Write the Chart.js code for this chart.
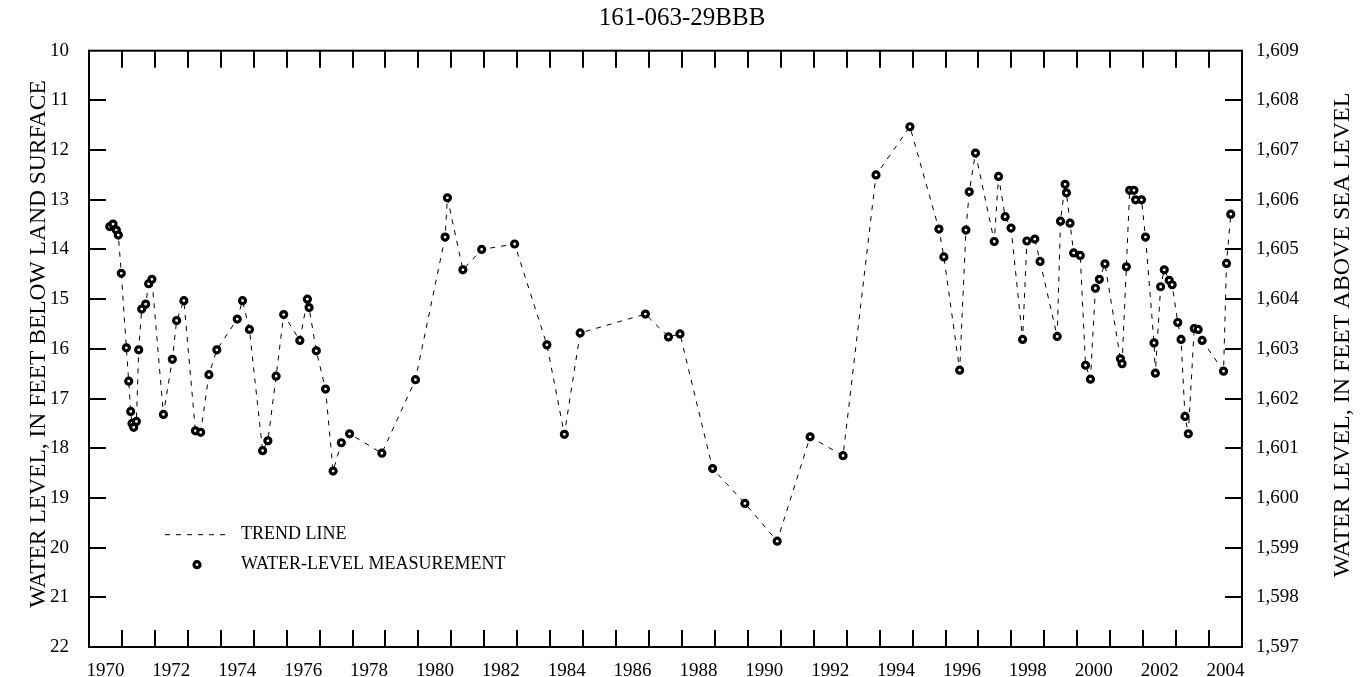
<!DOCTYPE html>
<html>
<head>
<meta charset="utf-8">
<script src="https://cdn.jsdelivr.net/npm/chart.js@4.4.1/dist/chart.umd.min.js"></script>
<style>
    html, body { margin: 0; padding: 0; background: #fff; }
    #wrap { width: 1364px; height: 677px; }
</style>
</head>
<body>
<div id="wrap"><canvas id="wellChart" width="1364" height="677"></canvas></div>
<script>
// Measurement dates (decimal years) and depth to water, feet below land surface
const measYears = [
    1970.63, 1970.73, 1970.83, 1970.89, 1970.98, 1971.135, 1971.205, 1971.266, 1971.306, 1971.357,
    1971.439, 1971.509, 1971.60, 1971.72, 1971.81, 1971.91, 1972.26, 1972.53, 1972.66, 1972.88,
    1973.23, 1973.39, 1973.64, 1973.88, 1974.50, 1974.66, 1974.87, 1975.27, 1975.43, 1975.68,
    1975.91, 1976.40, 1976.63, 1976.68, 1976.90, 1977.18, 1977.41, 1977.66, 1977.91, 1978.89,
    1979.91, 1980.81, 1980.88, 1981.35, 1981.92, 1982.92, 1983.90, 1984.43, 1984.91, 1986.89,
    1987.59, 1987.94, 1988.93, 1989.91, 1990.89, 1991.89, 1992.89, 1993.89, 1994.92, 1995.80,
    1995.95, 1996.43, 1996.62, 1996.72, 1996.91, 1997.48, 1997.61, 1997.81, 1997.99, 1998.34,
    1998.47, 1998.71, 1998.87, 1999.39, 1999.49, 1999.63, 1999.67, 1999.78, 1999.89, 2000.09,
    2000.25, 2000.40, 2000.55, 2000.67, 2000.84, 2001.31, 2001.36, 2001.49, 2001.59, 2001.72,
    2001.77, 2001.95, 2002.07, 2002.33, 2002.37, 2002.53, 2002.64, 2002.79, 2002.88, 2003.05,
    2003.15, 2003.27, 2003.37, 2003.55, 2003.67, 2003.79, 2004.44, 2004.53, 2004.66
];
const depthFt = [
    13.54, 13.49, 13.61, 13.71, 14.48, 15.98, 16.65, 17.26, 17.50, 17.58,
    17.46, 16.02, 15.20, 15.10, 14.69, 14.60, 17.32, 16.21, 15.43, 15.03,
    17.65, 17.68, 16.52, 16.02, 15.40, 15.03, 15.61, 18.05, 17.85, 16.55,
    15.31, 15.83, 15.00, 15.17, 16.04, 16.81, 18.46, 17.89, 17.71, 18.10,
    16.62, 13.75, 12.96, 14.41, 14.00, 13.89, 15.92, 17.72, 15.68, 15.30,
    15.76, 15.70, 18.41, 19.11, 19.87, 17.77, 18.15, 12.50, 11.53, 13.59,
    14.15, 16.43, 13.61, 12.84, 12.06, 13.84, 12.53, 13.34, 13.57, 15.81,
    13.83, 13.79, 14.24, 15.75, 13.43, 12.69, 12.86, 13.47, 14.07, 14.12,
    16.33, 16.61, 14.78, 14.60, 14.29, 16.20, 16.30, 14.35, 12.81, 12.81,
    13.00, 13.00, 13.75, 15.88, 16.49, 14.75, 14.41, 14.62, 14.71, 15.47,
    15.81, 17.36, 17.71, 15.59, 15.61, 15.83, 16.45, 14.28, 13.29
];

// axis ticks
const labelYears = [1970, 1972, 1974, 1976, 1978, 1980, 1982, 1984, 1986, 1988,
    1990, 1992, 1994, 1996, 1998, 2000, 2002, 2004];
const depthTicks = [10, 11, 12, 13, 14, 15, 16, 17, 18, 19, 20, 21, 22];
const elevTicks = [1597, 1598, 1599, 1600, 1601, 1602, 1603, 1604, 1605, 1606, 1607, 1608, 1609];

const SERIF = "'Liberation Serif', 'Times New Roman', Times, serif";
const points = measYears.map((yr, i) => ({ x: yr, y: depthFt[i] }));

function withCommas(v) {
    return String(v).replace(/\B(?=(\d{3})+(?!\d))/g, ',');
}

function sideTitle(ctx, text, x, y, size) {
    ctx.save();
    ctx.fillStyle = '#000';
    ctx.font = size + 'px ' + SERIF;
    ctx.textAlign = 'center';
    ctx.textBaseline = 'middle';
    ctx.translate(x, y);
    ctx.rotate(-Math.PI / 2);
    ctx.fillText(text, 0, 0);
    ctx.restore();
}

// frame, inward tick marks, axis titles and the legend box
const frameTicks = {
    id: 'frameTicks',
    afterDraw(chart) {
        const { ctx, chartArea: a, scales } = chart;
        const tick = 17;
        ctx.save();
        ctx.strokeStyle = '#000';
        ctx.lineWidth = 2;
        ctx.strokeRect(a.left, a.top, a.right - a.left, a.bottom - a.top);

        ctx.beginPath();
        for (let yr = scales.x.min + 1; yr < scales.x.max; yr++) {
            const x = Math.round(scales.x.getPixelForValue(yr));
            ctx.moveTo(x, a.top); ctx.lineTo(x, a.top + tick);
            ctx.moveTo(x, a.bottom); ctx.lineTo(x, a.bottom - tick);
        }
        depthTicks.slice(1, -1).forEach(d => {
            const y = Math.round(scales.y.getPixelForValue(d));
            ctx.moveTo(a.left, y); ctx.lineTo(a.left + tick, y);
        });
        elevTicks.slice(1, -1).forEach(e => {
            const y = Math.round(scales.y2.getPixelForValue(e));
            ctx.moveTo(a.right, y); ctx.lineTo(a.right - tick, y);
        });
        ctx.stroke();

        sideTitle(ctx, 'WATER LEVEL, IN FEET BELOW LAND SURFACE', 39, 344, 23.5);
        sideTitle(ctx, 'WATER LEVEL, IN FEET ABOVE SEA LEVEL', 1343, 335, 24);

        // legend
        const lx = a.left + 76, ly = a.top + 484;
        ctx.lineWidth = 1;
        ctx.setLineDash([5, 6]);
        ctx.beginPath();
        ctx.moveTo(lx, ly); ctx.lineTo(lx + 66, ly);
        ctx.stroke();
        ctx.setLineDash([]);
        ctx.lineWidth = 3.2;
        ctx.beginPath();
        ctx.arc(lx + 32, ly + 30, 3, 0, Math.PI * 2);
        ctx.fillStyle = '#fff';
        ctx.fill();
        ctx.stroke();
        ctx.fillStyle = '#000';
        ctx.font = '18px ' + SERIF;
        ctx.textAlign = 'left';
        ctx.textBaseline = 'middle';
        ctx.fillText('TREND LINE', lx + 76, ly);
        ctx.fillText('WATER-LEVEL MEASUREMENT', lx + 76, ly + 30);
        ctx.restore();
    }
};

new Chart(document.getElementById('wellChart'), {
    type: 'scatter',
    data: {
        datasets: [
            {
                label: 'WATER-LEVEL MEASUREMENT',
                data: points,
                showLine: false,
                pointRadius: 3,
                pointBorderWidth: 3.2,
                pointBackgroundColor: '#fff',
                pointBorderColor: '#000',
                order: 0
            },
            {
                label: 'TREND LINE',
                data: points,
                showLine: true,
                borderColor: '#000',
                borderWidth: 1,
                borderDash: [5, 6],
                pointRadius: 0,
                tension: 0,
                order: 1
            }
        ]
    },
    options: {
        responsive: false,
        animation: false,
        devicePixelRatio: 1,
        layout: { padding: 0 },
        plugins: {
            legend: { display: false },
            tooltip: { enabled: false },
            title: {
                display: true,
                text: '161-063-29BBB',
                color: '#000',
                font: { family: SERIF, size: 25, weight: 'normal' },
                padding: { top: 3, bottom: 17.7 }
            }
        },
        scales: {
            x: {
                type: 'linear',
                position: 'bottom',
                min: 1970,
                max: 2005,
                grid: { display: false },
                border: { display: false },
                afterBuildTicks: (scale) => { scale.ticks = labelYears.map(y => ({ value: y + 0.5 })); },
                afterFit: (scale) => { scale.height = 30; },
                ticks: {
                    autoSkip: false,
                    maxRotation: 0,
                    padding: 5,
                    color: '#000',
                    font: { family: SERIF, size: 19 },
                    callback: (v) => String(Math.floor(v))
                }
            },
            y: {
                type: 'linear',
                position: 'left',
                reverse: true,
                min: 10,
                max: 22,
                grid: { display: false },
                border: { display: false },
                afterBuildTicks: (scale) => { scale.ticks = depthTicks.map(v => ({ value: v })); },
                afterFit: (scale) => { scale.width = 89; },
                ticks: {
                    padding: 12,
                    color: '#000',
                    font: { family: SERIF, size: 19 }
                }
            },
            y2: {
                type: 'linear',
                position: 'right',
                min: 1597,
                max: 1609,
                grid: { display: false },
                border: { display: false },
                afterBuildTicks: (scale) => { scale.ticks = elevTicks.map(v => ({ value: v })); },
                afterFit: (scale) => { scale.width = 122; },
                ticks: {
                    padding: 6,
                    color: '#000',
                    font: { family: SERIF, size: 19 },
                    callback: (v) => withCommas(v)
                }
            }
        }
    },
    plugins: [frameTicks]
});
</script>
</body>
</html>
